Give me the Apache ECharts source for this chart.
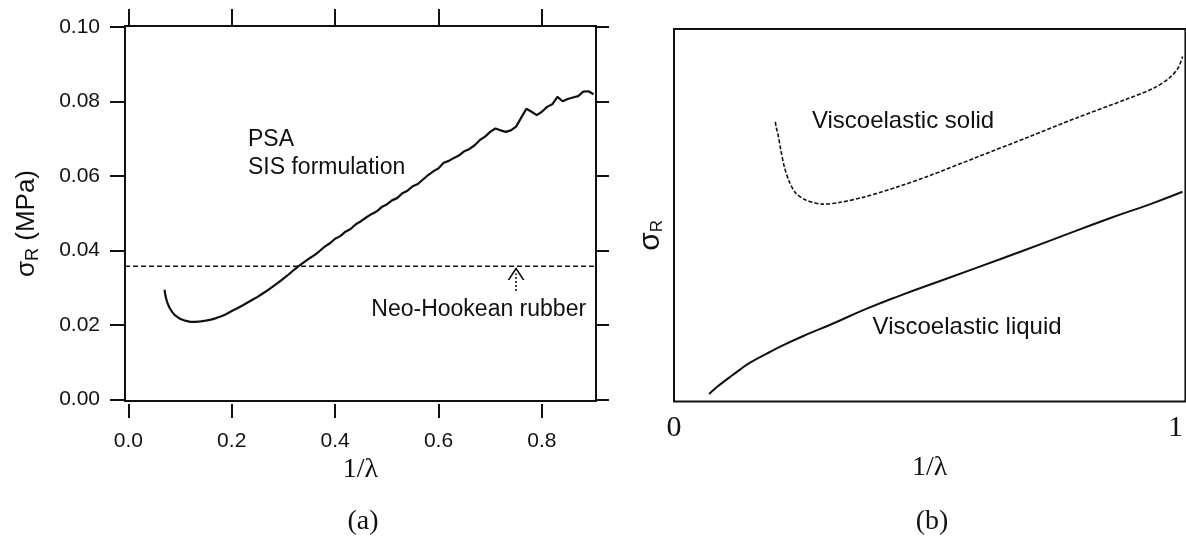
<!DOCTYPE html>
<html>
<head>
<meta charset="utf-8">
<script src="https://cdn.jsdelivr.net/npm/echarts@6/dist/echarts.min.js"></script>
<style>
html,body{margin:0;padding:0;background:#fff;}
#chart{width:1186px;height:537px;}
</style>
</head>
<body>
<div id="chart"></div>
<script>
// ---------- Panel (a) data ----------
const psaInvLambda = [0.070,0.072,0.075,0.080,0.085,0.090,0.100,0.110,0.120,0.130,0.140,0.150,0.160,0.170,0.180,0.190,0.200,0.210,0.220,0.230,0.240,0.250,0.260,0.270,0.280,0.290,0.300,0.310,0.320,0.330,0.340,0.350,0.360,0.370,0.380,0.390,0.400,0.410,0.420,0.430,0.440,0.450,0.460,0.470,0.480,0.490,0.500,0.510,0.520,0.530,0.540,0.550,0.560,0.570,0.580,0.590,0.600,0.610,0.620,0.630,0.640,0.650,0.660,0.670,0.680,0.690,0.700,0.710,0.720,0.730,0.740,0.750,0.760,0.770,0.780,0.790,0.800,0.810,0.820,0.830,0.840,0.850,0.860,0.870,0.880,0.890,0.900];
const psaStress = [0.0294,0.0277,0.0261,0.0245,0.0234,0.0226,0.0216,0.0211,0.0208,0.0208,0.0209,0.0211,0.0214,0.0218,0.0223,0.0229,0.0237,0.0244,0.0251,0.0259,0.0267,0.0275,0.0284,0.0293,0.0303,0.0313,0.0324,0.0335,0.0347,0.0358,0.0368,0.0378,0.0387,0.0398,0.0410,0.0419,0.0431,0.0438,0.0450,0.0457,0.0470,0.0478,0.0488,0.0497,0.0504,0.0516,0.0523,0.0534,0.0540,0.0553,0.0560,0.0572,0.0578,0.0590,0.0602,0.0612,0.0620,0.0635,0.0640,0.0648,0.0655,0.0666,0.0672,0.0682,0.0696,0.0705,0.0718,0.0727,0.0722,0.0718,0.0722,0.0732,0.0756,0.0780,0.0772,0.0763,0.0772,0.0785,0.0792,0.0812,0.0800,0.0806,0.0810,0.0814,0.0826,0.0827,0.0819];
const neoHookeanStress = 0.0357;
const arrowX = 0.75;
const arrowFromY = 0.0291;
const arrowToY = 0.0338;
const aXTicks = [0, 0.2, 0.4, 0.6, 0.8];
const aYTicks = [0, 0.02, 0.04, 0.06, 0.08, 0.10];
const aXMin = -0.0064, aXMax = 0.9046;
const aYMin = -0.00046, aYMax = 0.10021;

// ---------- Panel (b) data (schematic) ----------
const liquidInvLambda = [0.070,0.085,0.100,0.117,0.133,0.150,0.183,0.216,0.265,0.315,0.382,0.448,0.550,0.650,0.750,0.869,0.950,1.014];
const liquidStress    = [0.020,0.038,0.054,0.071,0.087,0.103,0.127,0.150,0.180,0.208,0.248,0.283,0.333,0.382,0.432,0.492,0.530,0.563];
const solidInvLambda = [0.202,0.204,0.207,0.213,0.220,0.230,0.243,0.263,0.296,0.329,0.382,0.448,0.507,0.606,0.705,0.804,0.903,0.956,0.989,1.006,1.014];
const solidStress    = [0.751,0.735,0.720,0.675,0.630,0.590,0.559,0.541,0.530,0.534,0.550,0.577,0.605,0.657,0.709,0.762,0.812,0.841,0.870,0.897,0.926];
const bXTicks = [0, 1];
const bXMax = 1.0198;

const zip = (xs, ys) => xs.map((x, i) => [x, ys[i]]);

const sans = "'Liberation Sans', Arial, Helvetica, sans-serif";
const serif = "'Liberation Serif', 'Times New Roman', serif";
const ink = '#111';

const chevron = 'path://M0,13 L8,0 L16,13 L14.2,13 L8,3 L1.8,13 Z';

const chart = echarts.init(document.getElementById('chart'), null, {renderer: 'canvas'});

const noLine = {show: false, onZero: false};

const option = {
  animation: false,
  backgroundColor: '#fff',
  title: [
    {text: '(a)', left: 358, top: 503, textAlign: 'center',
     textStyle: {fontFamily: serif, fontSize: 28, fontWeight: 'normal', color: ink}},
    {text: '(b)', left: 927, top: 503, textAlign: 'center',
     textStyle: {fontFamily: serif, fontSize: 28, fontWeight: 'normal', color: ink}}
  ],
  grid: [
    {left: 125, top: 26, width: 471, height: 375, show: true, borderColor: ink, borderWidth: 2, backgroundColor: 'transparent'},
    {left: 674, top: 29, right: -3, bottom: 135.5, show: true, borderColor: ink, borderWidth: 2, backgroundColor: 'transparent'}
  ],
  xAxis: [
    {gridIndex: 0, type: 'value', min: aXMin, max: aXMax, position: 'bottom', offset: 3,
     axisLine: noLine, splitLine: {show: false},
     axisTick: {show: true, inside: false, length: 14, customValues: aXTicks, lineStyle: {color: ink, width: 2}},
     axisLabel: {show: true, customValues: aXTicks, margin: 27, fontFamily: sans, fontSize: 21, color: ink,
                 formatter: v => v.toFixed(1)},
     name: '1/λ', nameLocation: 'middle', nameGap: 52, nameMoveOverlap: false,
     nameTextStyle: {fontFamily: serif, fontSize: 28, color: ink}},
    {gridIndex: 0, type: 'value', min: aXMin, max: aXMax, position: 'top',
     axisLine: noLine, splitLine: {show: false},
     axisTick: {show: true, inside: false, length: 17, customValues: aXTicks, lineStyle: {color: ink, width: 2}},
     axisLabel: {show: false}},
    {gridIndex: 1, type: 'value', min: 0, max: bXMax, position: 'bottom',
     axisLine: noLine, splitLine: {show: false}, axisTick: {show: false},
     axisLabel: {show: true, customValues: bXTicks, margin: 12, fontFamily: serif, fontSize: 30, color: ink,
                 formatter: v => String(v)},
     name: '1/λ', nameLocation: 'middle', nameGap: 52, nameMoveOverlap: false,
     nameTextStyle: {fontFamily: serif, fontSize: 28, color: ink}}
  ],
  yAxis: [
    {gridIndex: 0, type: 'value', min: aYMin, max: aYMax, position: 'left',
     axisLine: noLine, splitLine: {show: false},
     axisTick: {show: true, inside: false, length: 15, customValues: aYTicks, lineStyle: {color: ink, width: 2}},
     axisLabel: {show: true, customValues: aYTicks, margin: 25, fontFamily: sans, fontSize: 21, color: ink,
                 formatter: v => v.toFixed(2)},
     name: '{s|σ}{r|R}{s| (MPa)}', nameLocation: 'middle', nameGap: 83, nameRotate: 90, nameMoveOverlap: false,
     nameTextStyle: {fontFamily: sans, color: ink, padding: [0, 20, 0, 0],
       rich: {s: {fontFamily: sans, fontSize: 26, color: ink},
              r: {fontFamily: sans, fontSize: 18, color: ink, verticalAlign: 'bottom', padding: [12, 0, 0, 0]}}}},
    {gridIndex: 0, type: 'value', min: aYMin, max: aYMax, position: 'right',
     axisLine: noLine, splitLine: {show: false},
     axisTick: {show: true, inside: false, length: 13, customValues: aYTicks, lineStyle: {color: ink, width: 2}},
     axisLabel: {show: false}},
    {gridIndex: 1, type: 'value', min: 0, max: 1, position: 'left',
     axisLine: noLine, splitLine: {show: false}, axisTick: {show: false}, axisLabel: {show: false},
     name: '{s|σ}{r|R}', nameLocation: 'middle', nameGap: 8, nameRotate: 90, nameMoveOverlap: false,
     nameTextStyle: {fontFamily: sans, color: ink, padding: [0, 40, 0, 0],
       rich: {s: {fontFamily: sans, fontSize: 30, color: ink},
              r: {fontFamily: sans, fontSize: 17, color: ink, verticalAlign: 'bottom', padding: [14, 0, 0, 0]}}}}
  ],
  series: [
    {type: 'line', name: 'PSA', xAxisIndex: 0, yAxisIndex: 0, data: zip(psaInvLambda, psaStress),
     showSymbol: false, symbol: 'none', lineStyle: {color: ink, width: 2.2}, silent: true,
     markPoint: {symbol: 'circle', symbolSize: 0, silent: true,
       label: {show: true, position: 'right', distance: 0, formatter: '{b}', fontFamily: sans, fontSize: 23, color: ink},
       data: [{name: 'PSA', coord: [0.2315, 0.0696]}, {name: 'SIS formulation', coord: [0.2315, 0.0621]}]}},
    {type: 'line', name: 'Neo-Hookean rubber', xAxisIndex: 0, yAxisIndex: 0,
     data: [[aXMin, neoHookeanStress], [aXMax, neoHookeanStress]],
     showSymbol: false, symbol: 'none', lineStyle: {color: ink, width: 1.6, type: [5, 3]}, silent: true,
     markPoint: {symbol: 'circle', symbolSize: 0, silent: true,
       label: {show: true, position: 'right', distance: 0, formatter: '{b}', fontFamily: sans, fontSize: 23, color: ink},
       data: [{name: 'Neo-Hookean rubber', coord: [0.470, 0.0241]}]},
     markLine: {silent: true, symbol: ['none', chevron], symbolSize: [17, 13],
       lineStyle: {color: ink, width: 1.6, type: [2, 2]}, label: {show: false},
       data: [[{coord: [arrowX, arrowFromY]}, {coord: [arrowX, arrowToY]}]]}},
    {type: 'line', name: 'Viscoelastic liquid', xAxisIndex: 2, yAxisIndex: 2, data: zip(liquidInvLambda, liquidStress),
     showSymbol: false, symbol: 'none', smooth: 0.5, lineStyle: {color: ink, width: 2}, silent: true,
     markPoint: {symbol: 'circle', symbolSize: 0, silent: true,
       label: {show: true, position: 'right', distance: 0, formatter: '{b}', fontFamily: sans, fontSize: 24, color: ink},
       data: [{name: 'Viscoelastic liquid', coord: [0.396, 0.199]}]}},
    {type: 'line', name: 'Viscoelastic solid', xAxisIndex: 2, yAxisIndex: 2, data: zip(solidInvLambda, solidStress),
     showSymbol: false, symbol: 'none', smooth: 0.3, lineStyle: {color: ink, width: 1.6, type: [4, 2]}, silent: true,
     markPoint: {symbol: 'circle', symbolSize: 0, silent: true,
       label: {show: true, position: 'right', distance: 0, formatter: '{b}', fontFamily: sans, fontSize: 24, color: ink},
       data: [{name: 'Viscoelastic solid', coord: [0.275, 0.753]}]}}
  ]
};
chart.setOption(option);
</script>
</body>
</html>
